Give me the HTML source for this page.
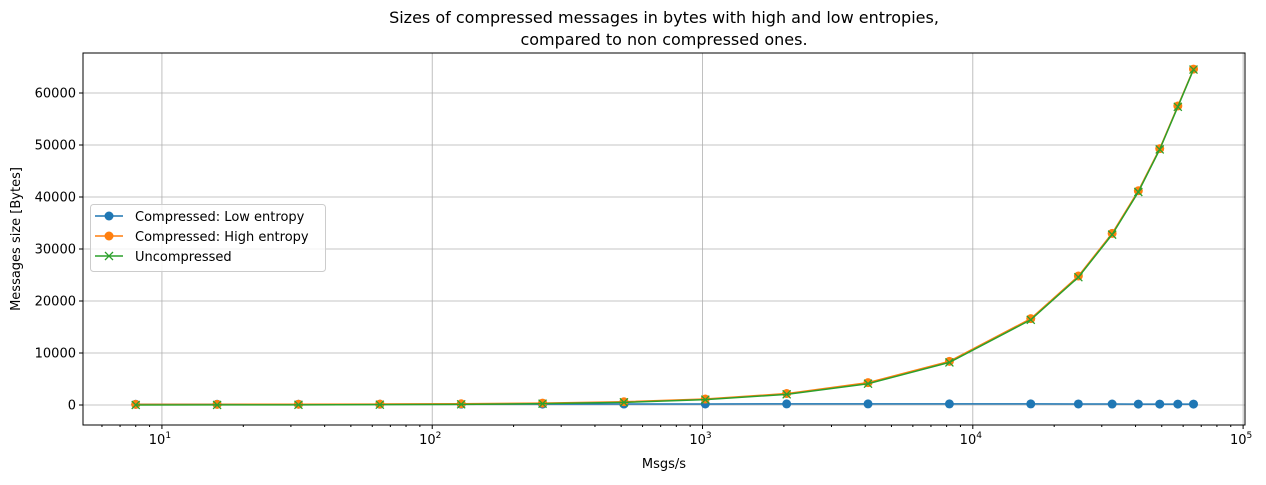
<!DOCTYPE html>
<html><head><meta charset="utf-8"><style>
body{margin:0;background:#fff;}
svg{font-family:"DejaVu Sans","Liberation Sans",sans-serif;}
</style></head><body>
<svg id="chart" width="1266" height="480" viewBox="0 0 1266 480">
<text x="664" y="23" font-size="16" text-anchor="middle">Sizes of compressed messages in bytes with high and low entropies,</text>
<text x="664" y="45" font-size="16" text-anchor="middle">compared to non compressed ones.</text>
<g id="grid"></g><g id="axes"></g><g id="series"></g>
<text x="664" y="468" font-size="13" text-anchor="middle">Msgs/s</text>
<text transform="translate(20,239) rotate(-90)" font-size="13" text-anchor="middle">Messages size [Bytes]</text>
</svg>
<script>
const xs=[8,16,32,64,128,256,512,1024,2048,4096,8192,16384,24576,32768,40960,49152,57344,65536];
const lowEntropy=[140,145,150,155,160,170,185,200,210,215,215,210,200,190,180,180,175,175];
const highEntropy=[120,130,150,180,240,370,630,1150,2200,4300,8400,16600,24800,33000,41200,49300,57500,64600];
const uncompressed=[8,16,32,64,128,256,512,1024,2048,4096,8192,16384,24576,32768,40960,49152,57344,64500];
const yTicks=[0,10000,20000,30000,40000,50000,60000];
const xDecades=[1,2,3,4,5];
const L=83,R=1245,T=53,B=425;
const xmin=0.708,xmax=5.007,ymin=-3846,ymax=67692;
const sx=v=>L+(Math.log10(v)-xmin)/(xmax-xmin)*(R-L);
const sy=v=>B-(v-ymin)/(ymax-ymin)*(B-T);
const NS="http://www.w3.org/2000/svg";
function mk(t,a,p){const e=document.createElementNS(NS,t);for(const k in a)e.setAttribute(k,a[k]);p.appendChild(e);return e;}
const grid=document.getElementById('grid'),axes=document.getElementById('axes'),ser=document.getElementById('series');
mk('rect',{x:L,y:T,width:R-L,height:B-T,fill:'none',stroke:'#000','stroke-width':1},axes);
yTicks.forEach(v=>{const y=sy(v);
 const g=mk('line',{x1:L,x2:R,y1:y,y2:y,stroke:'#b0b0b0','stroke-width':0.8},grid);
 
 mk('line',{x1:L-4,x2:L,y1:y,y2:y,stroke:'#000'},axes);
 const t=mk('text',{x:L-7,y:y+4.5,'font-size':13,'text-anchor':'end'},axes);t.textContent=v;
 });
xDecades.forEach(d=>{const x=sx(Math.pow(10,d));
 const g=mk('line',{x1:x,x2:x,y1:T,y2:B,stroke:'#b0b0b0','stroke-width':0.8},grid);
 
 mk('line',{x1:x,x2:x,y1:B,y2:B+4,stroke:'#000'},axes);
 const t=mk('text',{x:x-2,y:B+19,'font-size':13,'text-anchor':'middle'},axes);
 t.innerHTML='10<tspan dy="-6" font-size="9">'+d+'</tspan>';
 });
for(let d=0;d<5;d++)for(let m=2;m<10;m++){const v=m*Math.pow(10,d);const lv=Math.log10(v);if(lv<xmin||lv>xmax)continue;
 const x=sx(v);mk('line',{x1:x,x2:x,y1:B,y2:B+2,stroke:'#000'},axes);}
function series(vals,color,marker,name){
 const g=mk('g',{},ser);
 mk('polyline',{points:xs.map((x,i)=>sx(x)+','+sy(vals[i])).join(' '),fill:'none',stroke:color,'stroke-width':1.5},g);
 xs.forEach((x,i)=>{const cx=sx(x),cy=sy(vals[i]);
  if(marker==='o')mk('circle',{cx:cx,cy:cy,r:4.5,fill:color},g);
  else{mk('path',{d:`M${cx-4},${cy-4}L${cx+4},${cy+4}M${cx-4},${cy+4}L${cx+4},${cy-4}`,stroke:color,'stroke-width':1.3},g);}});}
series(lowEntropy,'#1f77b4','o','series-low-entropy');
series(highEntropy,'#ff7f0e','o','series-high-entropy');
series(uncompressed,'#2ca02c','x','series-uncompressed');
const lg=mk('g',{},ser);
mk('rect',{x:90.5,y:204.5,width:235,height:67,rx:3,fill:'#fff','fill-opacity':0.8,stroke:'#ccc'},lg);
[['Compressed: Low entropy','#1f77b4','o'],['Compressed: High entropy','#ff7f0e','o'],['Uncompressed','#2ca02c','x']].forEach((e,i)=>{
 const y=216+i*20;const eg=mk('g',{},lg);
 
 mk('line',{x1:95,x2:123,y1:y,y2:y,stroke:e[1],'stroke-width':1.5},eg);
 if(e[2]==='o')mk('circle',{cx:109,cy:y,r:4.5,fill:e[1]},eg);
 else mk('path',{d:`M105,${y-4}L113,${y+4}M105,${y+4}L113,${y-4}`,stroke:e[1],'stroke-width':1.3},eg);
 const t=mk('text',{x:135,y:y+5,'font-size':13},eg);t.textContent=e[0];});
</script>
</body></html>
